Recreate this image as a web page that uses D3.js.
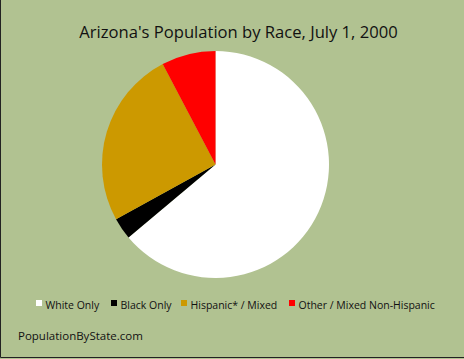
<!DOCTYPE html>
<html>
<head>
<meta charset="utf-8">
<script src="https://cdn.jsdelivr.net/npm/d3@7"></script>
<style>
  body { margin: 0; background: #fff; }
  svg { display: block; font-family: "Open Sans", "Liberation Sans", sans-serif; }
</style>
</head>
<body>
<script>
// data (share of population, %)
const races = ["White Only", "Black Only", "Hispanic* / Mixed", "Other / Mixed Non-Hispanic"];
const shares = [63.9, 3.1, 25.3, 7.7];
const colors = ["#ffffff", "#000000", "#cc9900", "#ff0000"];

const width = 464, height = 359;
const bg = "#b1c291";

const svg = d3.select("body").append("svg")
    .attr("width", width)
    .attr("height", height);

svg.append("rect")
    .attr("width", width)
    .attr("height", height)
    .attr("fill", bg);

// dark edge on left and bottom
svg.append("path")
    .attr("d", `M0.5,0 V${height - 1.5} H${width}`)
    .attr("fill", "none")
    .attr("stroke", "#222")
    .attr("stroke-width", 1);

svg.append("text")
    .attr("x", 238.5)
    .attr("y", 38)
    .attr("text-anchor", "middle")
    .attr("font-size", 16.6)
    .attr("fill", "#111")
    .text("Arizona's Population by Race, July 1, 2000");

// pie
const cx = 215.5, cy = 164.5, r = 113.5;
const pie = d3.pie().sort(null).value(d => d.v);
const arc = d3.arc().innerRadius(0).outerRadius(r);
const rows = races.map((name, i) => ({ name, v: shares[i], c: colors[i] }));

svg.append("g")
    .attr("transform", `translate(${cx},${cy})`)
    .selectAll("path")
    .data(pie(rows))
    .join("path")
    .attr("d", arc)
    .attr("fill", d => d.data.c);

// legend
const legendX = [36, 111, 181, 289];
const legend = svg.append("g")
    .selectAll("g")
    .data(rows)
    .join("g")
    .attr("transform", (d, i) => `translate(${legendX[i]},305)`);

legend.append("rect")
    .attr("x", 0)
    .attr("y", -5)
    .attr("width", 6)
    .attr("height", 6)
    .attr("fill", d => d.c);

legend.append("text")
    .attr("x", 9.5)
    .attr("y", 3.5)
    .attr("font-size", 10.5)
    .attr("fill", "#111")
    .text(d => d.name);

svg.append("text")
    .attr("x", 18)
    .attr("y", 340)
    .attr("font-size", 11.5)
    .attr("fill", "#111")
    .text("PopulationByState.com");
</script>
</body>
</html>
